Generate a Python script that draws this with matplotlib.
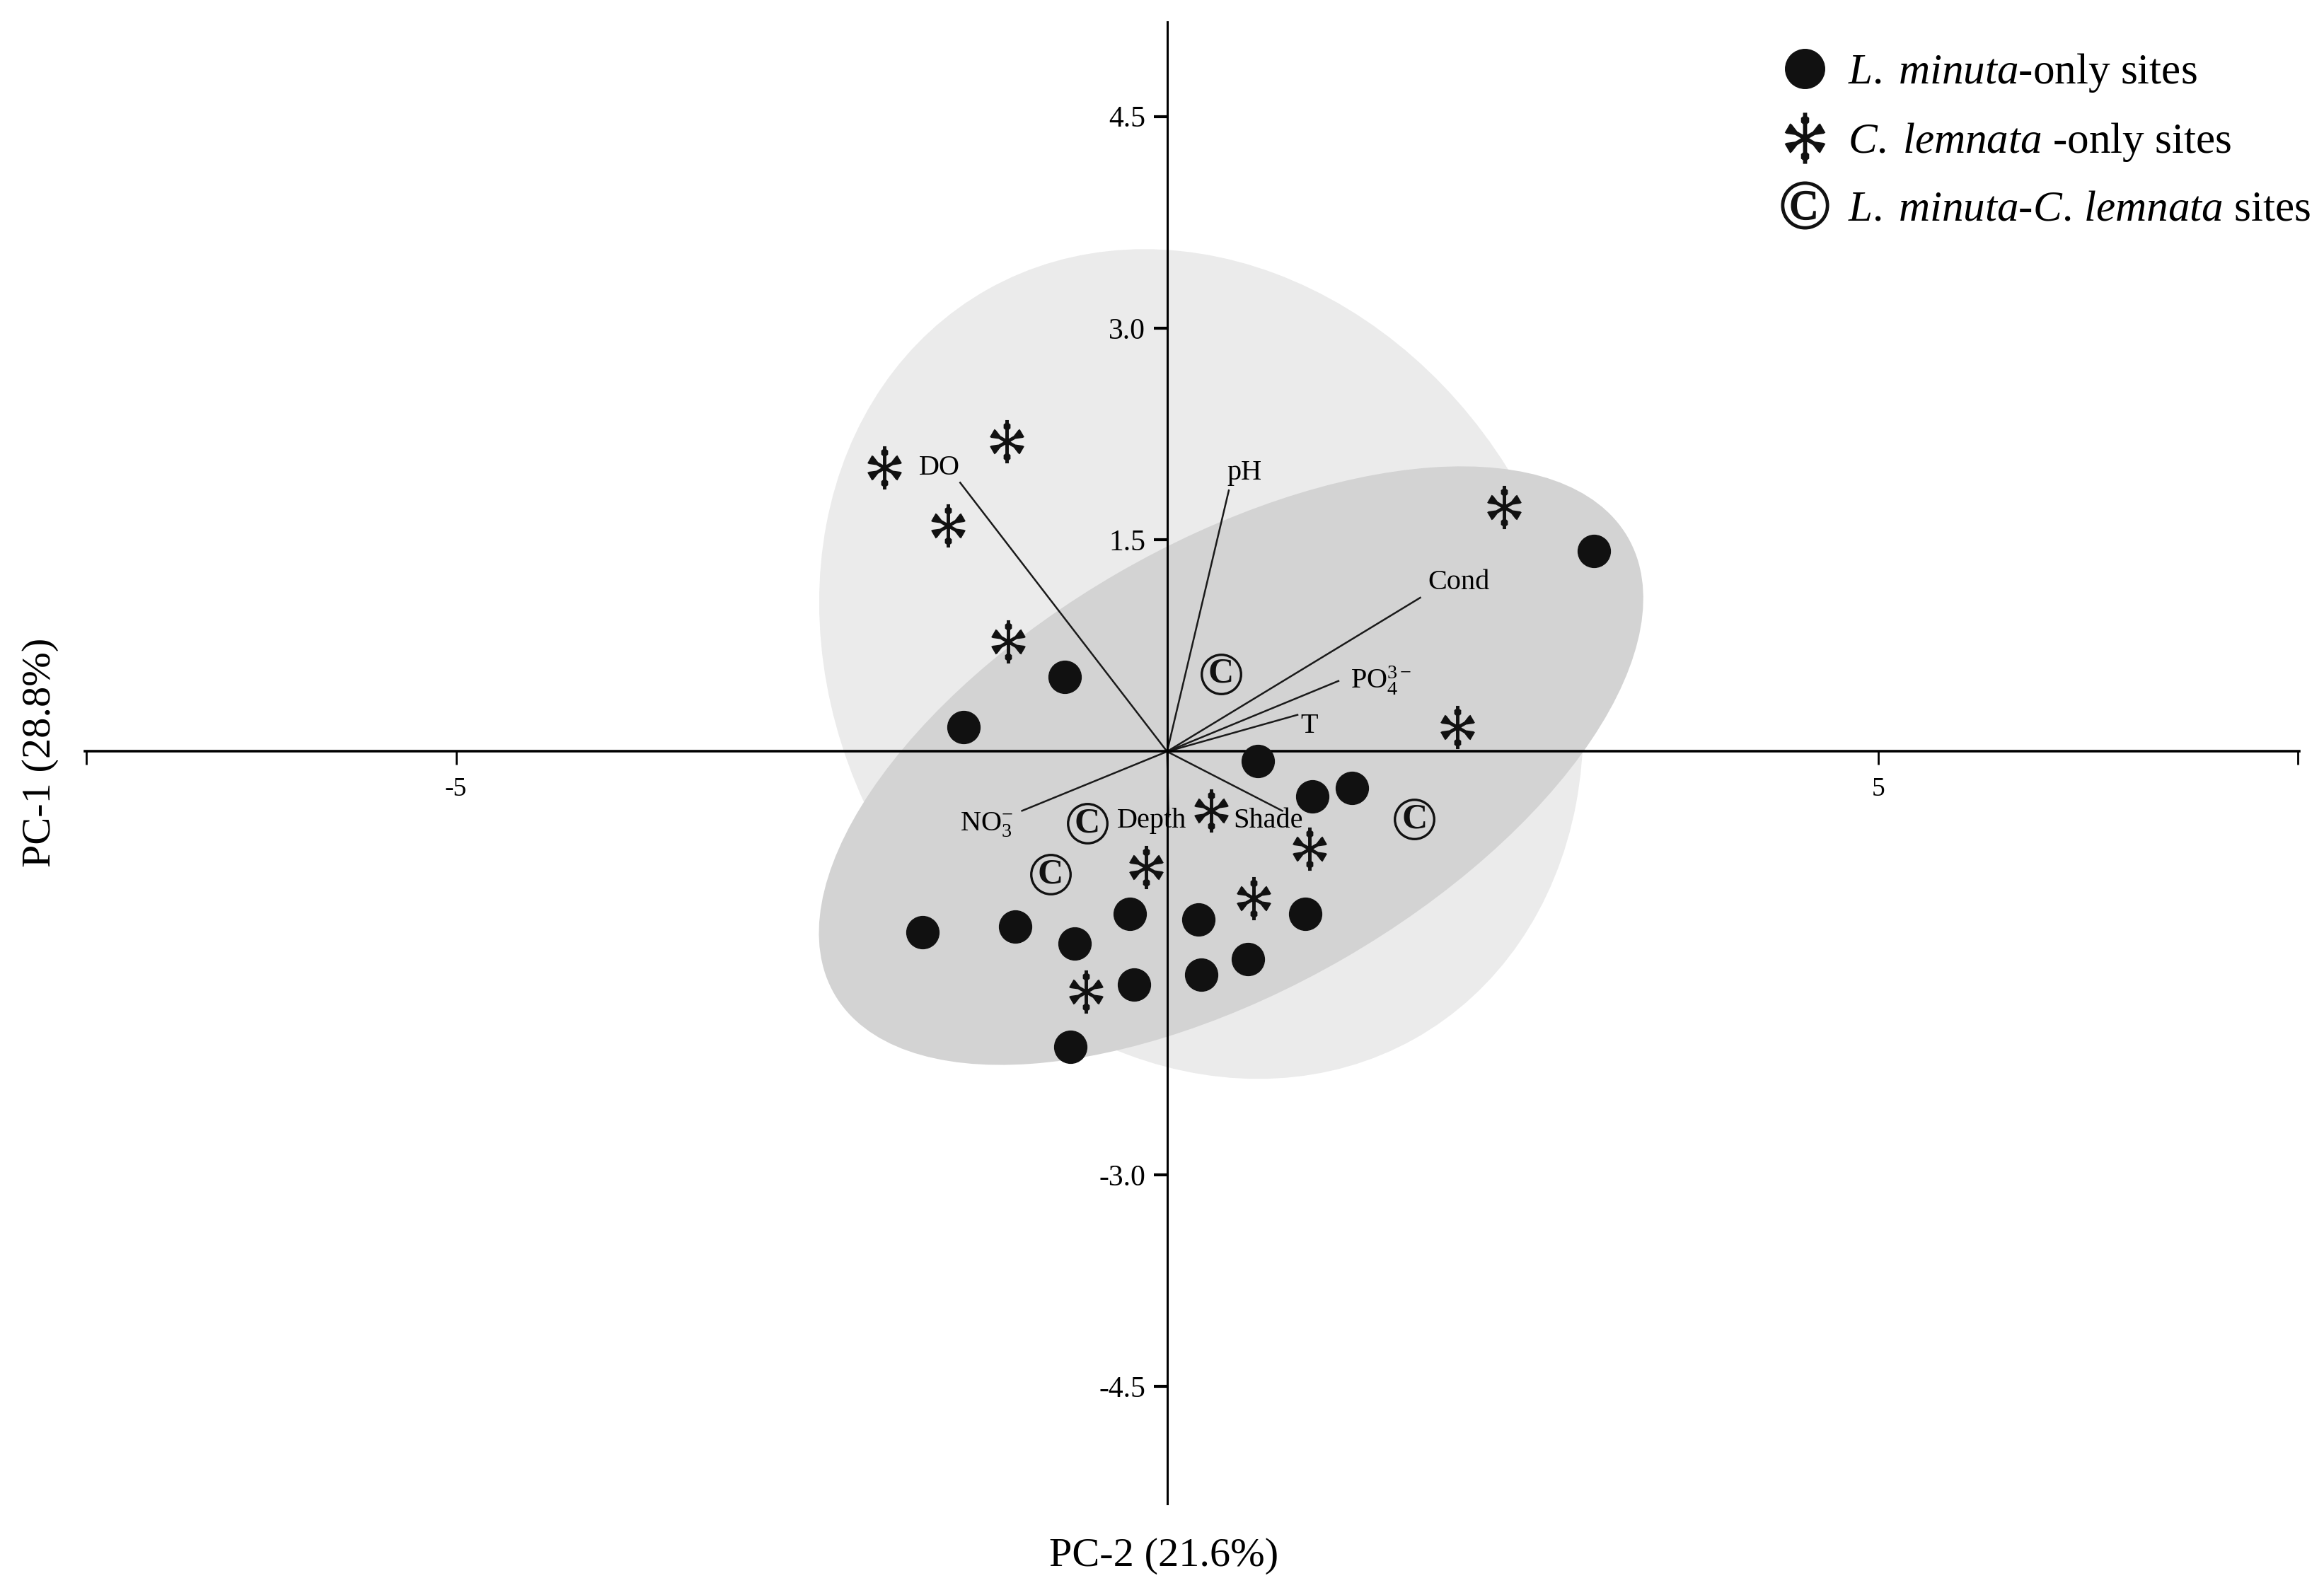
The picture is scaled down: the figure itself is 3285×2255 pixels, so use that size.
import numpy as np
import matplotlib
matplotlib.use("Agg")
import matplotlib.pyplot as plt
from matplotlib.path import Path
from matplotlib.patches import Ellipse
from matplotlib.lines import Line2D

plt.rcParams['font.family'] = ['Liberation Serif', 'DejaVu Serif']
plt.rcParams['mathtext.fontset'] = 'custom'
plt.rcParams['mathtext.rm'] = 'Liberation Serif'
plt.rcParams['mathtext.it'] = 'Liberation Serif:italic'

# site scores (PC-2 on x, PC-1 on y)
minuta_x = [3.00, -0.72, -1.43, 0.64, 1.02, 1.30, -1.72, -1.07, -0.65, -0.26, 0.22, 0.97, -0.23, 0.24, 0.57, -0.68]
minuta_y = [1.42, 0.53, 0.175, -0.07, -0.32, -0.26, -1.28, -1.24, -1.36, -1.15, -1.19, -1.15, -1.65, -1.58, -1.47, -2.09]

lemnata_x = [-1.99, -1.13, -1.54, -1.12, 2.37, 2.04, 0.31, 1.00, -0.15, 0.61, -0.57]
lemnata_y = [2.01, 2.20, 1.60, 0.78, 1.73, 0.175, -0.42, -0.69, -0.82, -1.04, -1.70]

both_x = [0.38, -0.56, 1.74, -0.82]
both_y = [0.55, -0.51, -0.48, -0.87]

# environmental loadings
var_names = ['DO', 'pH', 'Cond', r'PO$_4^{3-}$', 'T', r'NO$_3^{-}$', 'Depth', 'Shade']
var_x = [-1.455, 0.434, 1.78, 1.205, 0.917, -1.02, 0.01, 0.81]
var_y = [1.905, 1.85, 1.09, 0.50, 0.26, -0.42, -0.46, -0.42]
lab_x = [-1.60, 0.545, 2.05, 1.29, 1.00, -1.27, -0.11, 0.71]
lab_y = [2.01, 1.975, 1.20, 0.50, 0.18, -0.52, -0.49, -0.49]
lab_ha = ['center', 'center', 'center', 'left', 'center', 'center', 'center', 'center']

# confidence ellipses: center x, center y, width, height, angle
ell_lemnata = (0.24, 0.62, 5.12, 6.10, 29.4)
ell_minuta = (0.45, -0.10, 6.45, 3.16, 30.2)

xticks = [-7.60, -5, 5, 7.95]
xticklabels = ['', '-5', '5', '']
yticks = [4.5, 3.0, 1.5, -3.0, -4.5]
yticklabels = ['4.5', '3.0', '1.5', '-3.0', '-4.5']


def spoke_marker():
    polys = []
    # vertical stem with blobs near the ends
    for ang in (90, 270):
        w, bw = 0.08, 0.16
        pts = [(0, -w), (0.55, -w), (0.62, -bw), (0.80, -bw), (0.86, -w), (1.0, -w),
               (1.0, w), (0.86, w), (0.80, bw), (0.62, bw), (0.55, w), (0, w), (0, -w)]
        polys.append((ang, pts))
    # diagonal arms widening outward
    for ang in (30, 150, 210, 330):
        w = 0.08
        pts = [(0, -w), (0.40, -w), (0.72, -0.21), (0.80, -0.21), (0.80, 0.21),
               (0.72, 0.21), (0.40, w), (0, w), (0, -w)]
        polys.append((ang, pts))
    paths = []
    for ang, pts in polys:
        t = np.deg2rad(ang)
        c, s = np.cos(t), np.sin(t)
        paths.append(Path([(px * c - py * s, px * s + py * c) for px, py in pts], closed=True))
    return Path.make_compound_path(*paths)


star = spoke_marker()

fig = plt.figure(figsize=(32.85, 22.55), dpi=100)
ax = fig.add_axes([0.0365, 0.0572, 0.9528, 0.9291])
ax.set_xlim(-7.61, 7.96)
ax.set_ylim(-5.33, 5.17)

for (cx, cy, w, h, a), col in [(ell_lemnata, '#ebebeb'), (ell_minuta, '#d3d3d3')]:
    ax.add_patch(Ellipse((cx, cy), w, h, angle=a, facecolor=col, edgecolor='none', zorder=1))

for vx, vy in zip(var_x, var_y):
    ax.plot([0, vx], [0, vy], color='#1a1a1a', lw=1.8, zorder=2)
for name, tx, ty, ha in zip(var_names, lab_x, lab_y, lab_ha):
    ax.text(tx, ty, name, fontsize=29, ha=ha, va='center', zorder=4)

ax.plot(minuta_x, minuta_y, linestyle='none', marker='o', markersize=33,
        color='#111111', zorder=5)
ax.plot(lemnata_x, lemnata_y, linestyle='none', marker=star, markersize=44,
        color='#111111', markeredgewidth=0, zorder=5)
ax.plot(both_x, both_y, linestyle='none', marker='o', markersize=40,
        markerfacecolor='none', markeredgecolor='#111111', markeredgewidth=2.4, zorder=5)
for bx, by in zip(both_x, both_y):
    ax.text(bx, by, 'C', fontsize=36, fontweight='bold', ha='center', va='center',
            color='#111111', zorder=6)

for side in ['top', 'right']:
    ax.spines[side].set_visible(False)
ax.spines['left'].set_position(('data', 0))
ax.spines['bottom'].set_position(('data', 0))
ax.spines['left'].set_linewidth(2.2)
ax.spines['bottom'].set_linewidth(2.6)

ax.set_xticks(xticks)
ax.set_xticklabels(xticklabels)
ax.set_yticks(yticks)
ax.set_yticklabels(yticklabels)
ax.tick_params(axis='x', direction='out', length=14, width=2, pad=12, labelsize=27)
ax.tick_params(axis='y', direction='out', length=14, width=3, pad=8, labelsize=30)
ax.patch.set_alpha(0)

fig.text(1645 / 3285, 1 - 2200 / 2255, 'PC-2 (21.6%)', fontsize=42, ha='center', va='center')
fig.text(57 / 3285, 1 - 1064 / 2255, 'PC-1 (28.8%)', fontsize=42, ha='center', va='center',
         rotation=90)

handles = [
    Line2D([], [], linestyle='none', marker='o', markersize=40, color='#111111'),
    Line2D([], [], linestyle='none', marker=star, markersize=52, color='#111111', markeredgewidth=0),
    Line2D([], [], linestyle='none', marker=r'$\copyright$', markersize=48, color='#111111'),
]
labels = [r'$\it{L.\;minuta}$-only sites',
          r'$\it{C.\;lemnata}$ -only sites',
          r'$\it{L.\;minuta}$-$\it{C.\,lemnata}$ sites']
fig.legend(handles, labels, loc='upper left', bbox_to_anchor=(2514 / 3285, 1 - 73 / 2255),
           frameon=False, fontsize=44, handletextpad=0.4, labelspacing=0.62,
           handlelength=1.2, borderaxespad=0, borderpad=0)

fig.savefig('out.png', dpi=100)
